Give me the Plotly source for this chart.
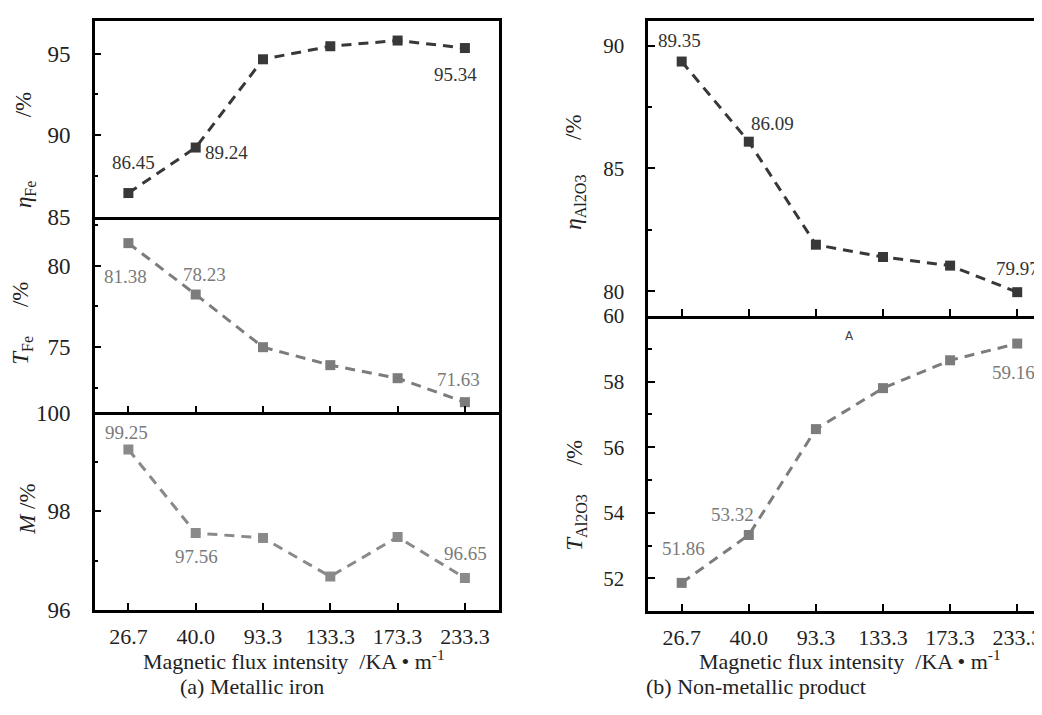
import plotly.graph_objects as go

# ---------------- data ----------------
categories = ["26.7", "40.0", "93.3", "133.3", "173.3", "233.3"]
eta_fe = [86.45, 89.24, 94.65, 95.45, 95.80, 95.34]
t_fe = [81.38, 78.23, 75.00, 73.90, 73.10, 71.63]
m_met = [99.25, 97.56, 97.46, 96.68, 97.48, 96.65]
eta_al2o3 = [89.35, 86.09, 81.90, 81.40, 81.05, 79.97]
t_al2o3 = [51.86, 53.32, 56.55, 57.80, 58.65, 59.16]

x_title = "Magnetic flux intensity \u00a0/KA \u2022 m<sup>-1</sup>"
cap_a = "(a) Metallic iron"
cap_b = "(b) Non-metallic product"

# the page body has an 8px margin; keep the document exactly 1042x715
OFF = 8
W, H = 1042 - OFF, 715 - 2 * OFF
FONT = "Liberation Serif, Times New Roman, serif"

def px_x(p):
    return min(1.0, max(0.0, (p - OFF) / W))

def px_y(p):
    return min(1.0, max(0.0, 1 - (p - OFF) / H))

dark = "#383838"
gray = "#7c7c7c"
gray2 = "#8a8a8a"

fig = go.Figure()

# (series, xaxis, yaxis, color, labelled indices with (xshift, yshift))
panels = [
    (eta_fe, "x", "y", dark, [(0, 5, 31), (1, 31, -5), (5, -9, -26)]),
    (t_fe, "x2", "y2", gray, [(0, -3, -33), (1, 9, 20), (5, -6, 23)]),
    (m_met, "x3", "y3", gray2, [(0, -2, 17), (1, 1, -23), (5, 1, 24)]),
    (eta_al2o3, "x4", "y4", dark, [(0, -2, 21), (1, 24, 18), (5, 0, 24)]),
    (t_al2o3, "x5", "y5", gray, [(0, 2, 34), (1, -16, 21), (5, -4, -29)]),
]

idx = list(range(len(categories)))

annotations = []
for vals, xa, ya, col, labs in panels:
    fig.add_trace(go.Scatter(
        x=idx, y=vals, xaxis=xa, yaxis=ya, mode="lines+markers",
        line=dict(color=col, width=3, dash="10px,7px"),
        marker=dict(symbol="square", size=10, color=col),
        showlegend=False, cliponaxis=False,
    ))
    for i, dx, dy in labs:
        annotations.append(dict(
            x=idx[i], y=vals[i], xref=xa, yref=ya,
            text=f"{vals[i]:.2f}", showarrow=False,
            xshift=dx, yshift=dy, xanchor="center", yanchor="middle",
            font=dict(family=FONT, size=19, color=("#333333" if col == dark else "#7a7a7a")),
        ))

line_w = 2.5
minor5 = dict(dtick=2.5, ticks="inside", ticklen=4, tickwidth=2, tickcolor="black")
minor2 = dict(dtick=1, ticks="inside", ticklen=4, tickwidth=2, tickcolor="black")
base_x = dict(type="linear", showline=True, linecolor="black", linewidth=line_w,
              mirror=False, showgrid=False, zeroline=False,
              tickmode="array", tickvals=idx, ticktext=categories,
              tickfont=dict(family=FONT, size=22, color="#222"),
              ticks="inside", ticklen=7, tickwidth=2, tickcolor="black",
              ticklabelstandoff=5, ticklabeloverflow="allow")
base_y = dict(showline=True, linecolor="black", linewidth=line_w, mirror=True,
              showgrid=False, zeroline=False, ticks="inside", ticklen=7,
              tickwidth=2, tickcolor="black",
              tickfont=dict(family=FONT, size=23, color="#222"),
              ticklabelstandoff=17)

L = [px_x(95), px_x(500)]
R = [px_x(650), 1.0]
r_right = -0.5 + (1042 - 650) / 67.3

fig.update_layout(
    width=W, height=H, margin=dict(l=0, r=0, t=0, b=0),
    plot_bgcolor="white", paper_bgcolor="white",
    font=dict(family=FONT, color="#222"),
    xaxis=dict(base_x, domain=L, anchor="y", range=[-0.5, 5.5], ticks="",
               showticklabels=False, mirror=True),
    xaxis2=dict(base_x, domain=L, anchor="y2", range=[-0.5, 5.5], showticklabels=False),
    xaxis3=dict(base_x, domain=L, anchor="y3", range=[-0.5, 5.5]),
    xaxis4=dict(base_x, domain=R, anchor="y4", range=[-0.5, r_right],
                showticklabels=False, mirror=True),
    xaxis5=dict(base_x, domain=R, anchor="y5", range=[-0.5, r_right]),
    yaxis=dict(base_y, domain=[px_y(212), px_y(9)], anchor="x", range=[85, 97.0],
               dtick=5, tick0=0, minor=minor5),
    yaxis2=dict(base_y, domain=[px_y(415), px_y(212)], anchor="x2", range=[71, 83],
                dtick=5, tick0=0, minor=minor5),
    yaxis3=dict(base_y, domain=[px_y(620), px_y(415)], anchor="x3", range=[96, 100],
                dtick=2, tick0=0, minor=minor2),
    yaxis4=dict(base_y, domain=[px_y(315), px_y(9)], anchor="x4", range=[79, 91],
                mirror=False, dtick=5, tick0=0, minor=minor5,
                tickfont=dict(family=FONT, size=21, color="#222")),
    yaxis5=dict(base_y, domain=[px_y(621), px_y(315)], anchor="x5", range=[51, 60],
                mirror=False, dtick=2, tick0=0, minor=minor2,
                tickfont=dict(family=FONT, size=21, color="#222")),
)

def paper_text(x, y, text, size=19, angle=0, color="#222", family=FONT):
    annotations.append(dict(x=px_x(x), y=px_y(y), xref="paper", yref="paper",
                            text=text, showarrow=False, textangle=angle,
                            xanchor="center", yanchor="middle",
                            font=dict(family=family, size=size, color=color)))

# axis titles (rotated)
paper_text(25, 143, "<i>\u03b7</i><sub>Fe</sub>" + "\u00a0" * 11 + "/%", size=23, angle=-90)
paper_text(22, 322, "<i>T</i><sub>Fe</sub>" + "\u00a0" * 5 + "/%", size=23, angle=-90)
paper_text(28, 515, "<i>M</i> /%", size=23, angle=-90)
paper_text(577, 166, "<i>\u03b7</i><sub>Al2O3</sub>" + "\u00a0" * 6 + "/%", size=23, angle=-90)
paper_text(578, 501, "<i>T</i><sub>Al2O3</sub>" + "\u00a0" * 5 + "/%", size=23, angle=-90)

# x titles and captions
paper_text(295, 672, x_title, size=22)
paper_text(852, 672, x_title, size=22)
paper_text(253, 699, cap_a, size=22)
paper_text(758, 699, cap_b, size=22)

# small "A" mark
paper_text(852, 336, "A", size=12, color="#444", family="DejaVu Sans")

fig.update_layout(annotations=annotations)
fig.write_html("out.html")
